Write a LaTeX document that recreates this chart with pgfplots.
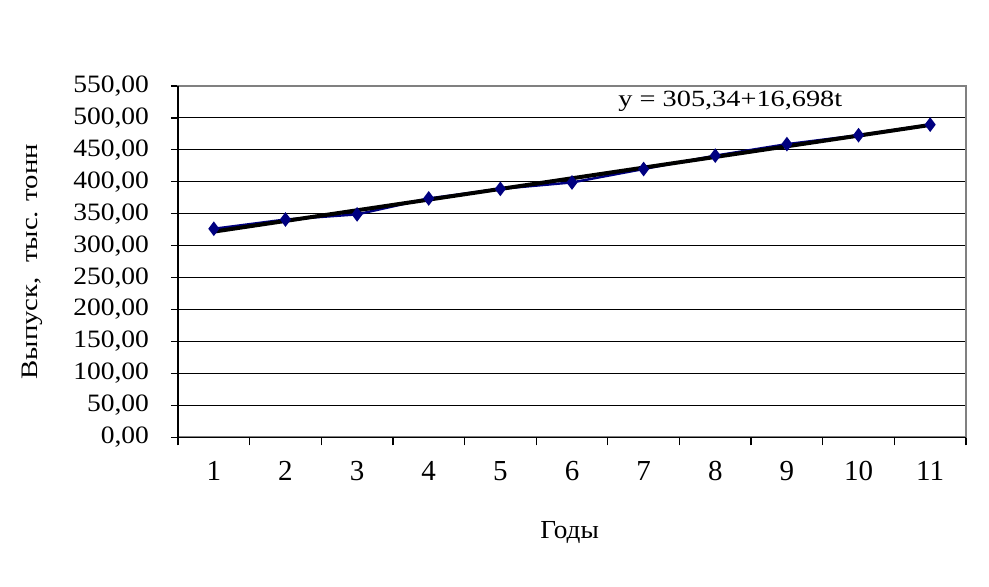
\documentclass[border=0pt]{standalone}
\usepackage{fontspec}
\setmainfont{Liberation Serif}
\newfontfamily\ytfont{Liberation Serif}[FakeStretch=1.1]
\newfontfamily\eqfont{Liberation Serif}[FakeStretch=1.22]
\newfontfamily\ylfont{Liberation Serif}[FakeStretch=1.22]
\newfontfamily\xlfont{Liberation Serif}[FakeStretch=1.05]
\usepackage{pgfplots}
\pgfplotsset{compat=1.18}
\definecolor{navyser}{HTML}{000080}
\definecolor{bordergray}{HTML}{808080}
\begin{document}
\begin{tikzpicture}
\begin{axis}[
  at={(0,0)}, anchor=south west,
  scale only axis, width=394bp, height=175.65bp,
  xmin=0.5, xmax=11.5, ymin=0, ymax=550,
  xtick={1,2,3,4,5,6,7,8,9,10,11},
  minor xtick={0.5,1.5,2.5,3.5,4.5,5.5,6.5,7.5,8.5,9.5,10.5,11.5},
  ytick={0,50,100,150,200,250,300,350,400,450,500,550},
  tick align=outside,
  xtick pos=bottom, ytick pos=left,
  major x tick style={draw=none},
  minor x tick style={black, line width=0.6bp},
  major y tick style={black, line width=0.6bp},
  minor tick length=4bp,
  major tick length=3.5bp,
  ymajorgrids,
  grid style={black, line width=0.5bp},
  axis line style={bordergray, line width=1bp},
  scaled y ticks=false,
  /pgf/number format/assume math mode=true,
  yticklabel style={font=\ytfont\fontsize{12.5bp}{14bp}\selectfont, anchor=east, xshift=-7.5bp,
    /pgf/number format/.cd, fixed, fixed zerofill, precision=2, use comma, 1000 sep={}},
  xticklabel style={font=\fontsize{14.5bp}{16bp}\selectfont, yshift=-5bp},
  xlabel={\xlfont\fontsize{13bp}{15bp}\selectfont Годы},
  xlabel style={at={(axis description cs:0.497,-0.27)}, anchor=center},
  ylabel={\ylfont\fontsize{11.8bp}{13bp}\selectfont Выпуск,\ \ тыс. тонн},
  ylabel style={at={(axis description cs:-0.1853,0.5)}, anchor=center, rotate=0},
  after end axis/.code={
    \draw[black, line width=0.6bp] (rel axis cs:0,1) -- (rel axis cs:0,0) -- (rel axis cs:1,0);
  },
]
\addplot[navyser, line width=1.2bp, mark=diamond*, mark size=2.7bp, mark options={fill=navyser, draw=navyser}]
  coordinates {(1,326.5) (2,341) (3,349) (4,374) (5,389) (6,399) (7,420) (8,441) (9,459) (10,473) (11,489.5)};
\addplot[black, line width=2bp, no marks]
  coordinates {(1,322.04) (11,489.02)};
\node[font=\eqfont\fontsize{11.6bp}{13bp}\selectfont, anchor=base] at (axis cs:8.21,517.6) {y = 305,34+16,698t};
\end{axis}
\pgfresetboundingbox
\path[use as bounding box] (-89bp,-74.85bp) rectangle (405.5bp,218.65bp);
\end{tikzpicture}
\end{document}
